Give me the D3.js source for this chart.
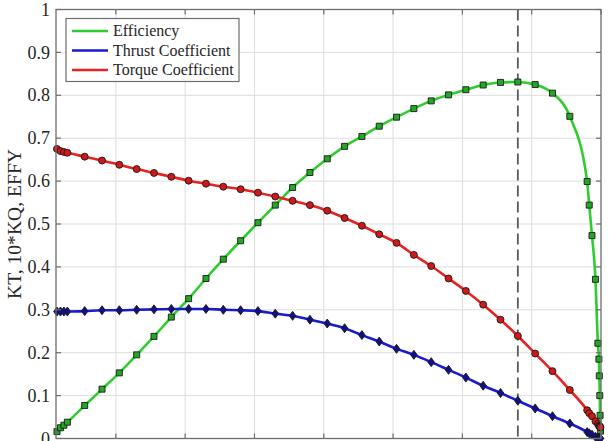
<!DOCTYPE html>
<html>
<head>
<meta charset="utf-8">
<script src="https://cdn.jsdelivr.net/npm/d3@7"></script>
<style>
  html, body { margin: 0; padding: 0; background: #fff; }
  svg { display: block; }
  text { font-family: "Liberation Serif", "Times New Roman", serif; fill: #262626; }
</style>
</head>
<body>
<svg id="chart" width="609" height="441" font-family="Liberation Serif, Times New Roman, serif"></svg>
<script>
// Advance coefficient J for every sample of the open-water curves
const advance = [
  0.015, 0.020, 0.025, 0.030, 0.055, 0.080, 0.105, 0.130, 0.155, 0.180,
  0.205, 0.230, 0.255, 0.280, 0.305, 0.330, 0.355, 0.380, 0.405, 0.430,
  0.455, 0.480, 0.505, 0.530, 0.555, 0.580, 0.605, 0.630, 0.655, 0.680,
  0.705, 0.730, 0.755, 0.780, 0.783, 0.787, 0.792, 0.7955, 0.797, 0.7976,
  0.7982, 0.7987, 0.7992
];
// Open-water efficiency
const efficiency = [
  0.016, 0.025, 0.031, 0.038, 0.077, 0.115, 0.153, 0.195, 0.238, 0.283,
  0.326, 0.373, 0.418, 0.461, 0.503, 0.544, 0.585, 0.620, 0.652, 0.681,
  0.704, 0.728, 0.749, 0.769, 0.787, 0.801, 0.813, 0.824, 0.830, 0.831,
  0.825, 0.805, 0.751, 0.599, 0.544, 0.473, 0.371, 0.222, 0.185, 0.146,
  0.100, 0.054, 0.017
];
// Thrust coefficient KT
const thrust = [
  0.296, 0.296, 0.296, 0.296, 0.297, 0.299, 0.299, 0.300, 0.301, 0.302,
  0.302, 0.302, 0.300, 0.299, 0.297, 0.291, 0.286, 0.277, 0.268, 0.257,
  0.241, 0.226, 0.209, 0.195, 0.178, 0.160, 0.142, 0.123, 0.106, 0.088,
  0.070, 0.052, 0.035, 0.015, 0.012, 0.009, 0.004, 0.002, 0.001, 0.001,
  0.001, 0.000, 0.000
];
// Torque coefficient, plotted as 10*KQ
const torque = [
  0.675, 0.670, 0.668, 0.666, 0.657, 0.648, 0.638, 0.628, 0.619, 0.610,
  0.601, 0.594, 0.587, 0.581, 0.573, 0.564, 0.554, 0.544, 0.531, 0.514,
  0.496, 0.476, 0.456, 0.428, 0.402, 0.373, 0.344, 0.312, 0.277, 0.239,
  0.198, 0.157, 0.113, 0.066, 0.059, 0.052, 0.040, 0.034, 0.030, 0.029,
  0.028, 0.027, 0.026
];
// J of the best-efficiency point, marked by the dashed line
const bestJ = [0.680];

const yTicks = [0, 0.1, 0.2, 0.3, 0.4, 0.5, 0.6, 0.7, 0.8, 0.9, 1];
const yTickLabels = ["0", "0.1", "0.2", "0.3", "0.4", "0.5", "0.6", "0.7", "0.8", "0.9", "1"];
const xTicks = [0.1, 0.2, 0.3, 0.4, 0.5, 0.6, 0.7, 0.8];
const xDomain = [0.0136, 0.8];
const yLabel = "KT, 10*KQ, EFFY";
const seriesNames = ["Efficiency", "Thrust Coefficient", "Torque Coefficient"];

const svg = d3.select("#chart");
const L = 56, R = 601, T = 9.5, B = 438.5;

const x = d3.scaleLinear().domain(xDomain).range([L, R]);
const y = d3.scaleLinear().domain([0, 1]).range([B, T]);

// grid
const grid = svg.append("g");
grid.selectAll("line.gy").data(yTicks.slice(1, -1)).join("line")
  .attr("x1", L).attr("x2", R)
  .attr("y1", d => y(d)).attr("y2", d => y(d))
  .attr("stroke", "#dedede").attr("stroke-width", 1);
grid.selectAll("line.gx").data(xTicks.filter(d => x(d) < R - 1)).join("line")
  .attr("y1", T).attr("y2", B)
  .attr("x1", d => x(d)).attr("x2", d => x(d))
  .attr("stroke", "#dedede").attr("stroke-width", 1);

// dashed marker of best efficiency
svg.append("line")
  .attr("x1", x(bestJ[0])).attr("x2", x(bestJ[0]))
  .attr("y1", T).attr("y2", B)
  .attr("stroke", "#5a5a5a").attr("stroke-width", 1.8)
  .attr("stroke-dasharray", "11,5");

const series = [
  { name: seriesNames[0], values: efficiency, line: "#2fcc2f", fill: "#22a822", marker: "square" },
  { name: seriesNames[1], values: thrust, line: "#1a1ad2", fill: "#10108a", marker: "diamond" },
  { name: seriesNames[2], values: torque, line: "#e62222", fill: "#d01818", marker: "circle" }
];

const line = d3.line()
  .x(d => x(d[0])).y(d => y(d[1]))
  .curve(d3.curveMonotoneX);

series.forEach(s => {
  const pts = advance.map((j, i) => [j, s.values[i]]);
  const g = svg.append("g");
  g.append("path").datum(pts)
    .attr("d", line)
    .attr("fill", "none")
    .attr("stroke", s.line)
    .attr("stroke-width", 2.6);
  const m = g.selectAll("path.m").data(pts).join("path")
    .attr("transform", d => `translate(${x(d[0])},${y(d[1])})`)
    .attr("fill", s.fill)
    .attr("stroke", "#1a1a1a")
    .attr("stroke-width", 0.9);
  if (s.marker === "square") m.attr("d", "M-3,-3H3V3H-3Z");
  else if (s.marker === "circle") m.attr("d", d3.symbol(d3.symbolCircle, 38)());
  else m.attr("d", "M0,-4.5L3.3,0L0,4.5L-3.3,0Z");
});

// axes box and inward ticks
const axisColor = "#6e6e6e";
svg.append("rect")
  .attr("x", L).attr("y", T).attr("width", R - L).attr("height", B - T)
  .attr("fill", "none").attr("stroke", axisColor).attr("stroke-width", 1.3);
const tickLen = 5;
const tk = svg.append("g").attr("stroke", axisColor).attr("stroke-width", 1.2);
yTicks.forEach(v => {
  tk.append("line").attr("x1", L).attr("x2", L + tickLen).attr("y1", y(v)).attr("y2", y(v));
  tk.append("line").attr("x1", R).attr("x2", R - tickLen).attr("y1", y(v)).attr("y2", y(v));
});
xTicks.forEach(v => {
  tk.append("line").attr("x1", x(v)).attr("x2", x(v)).attr("y1", B).attr("y2", B - tickLen);
  tk.append("line").attr("x1", x(v)).attr("x2", x(v)).attr("y1", T).attr("y2", T + tickLen);
});

// y tick labels
svg.append("g").selectAll("text").data(yTicks).join("text")
  .attr("x", L - 6).attr("y", d => y(d))
  .attr("dy", "0.34em")
  .attr("text-anchor", "end")
  .attr("font-size", 18)
  .text((d, i) => yTickLabels[i]);

// y axis title
svg.append("text")
  .attr("transform", `translate(20.5,${(T + B) / 2}) rotate(-90)`)
  .attr("text-anchor", "middle")
  .attr("font-size", 19.6)
  .text(yLabel);

// legend
const lg = svg.append("g");
lg.append("rect")
  .attr("x", 66).attr("y", 18.5).attr("width", 173).attr("height", 63)
  .attr("fill", "#fff").attr("stroke", "#6e6e6e").attr("stroke-width", 1.2);
series.forEach((s, i) => {
  const cy = 31 + i * 19.5;
  lg.append("line").attr("x1", 72).attr("x2", 108).attr("y1", cy).attr("y2", cy)
    .attr("stroke", s.line).attr("stroke-width", 2.6);
  lg.append("text").attr("x", 113).attr("y", cy).attr("dy", "0.33em")
    .attr("font-size", 16).text(s.name);
});
</script>
</body>
</html>
